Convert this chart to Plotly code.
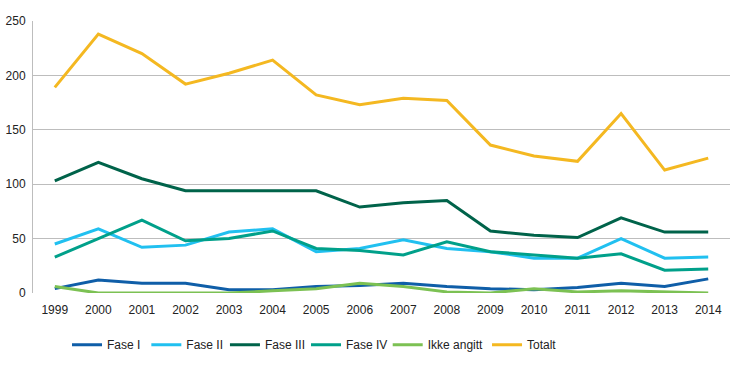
import plotly.graph_objects as go

years = [str(y) for y in range(1999, 2015)]
fase_1 = [4, 12, 9, 9, 3, 3, 6, 7, 9, 6, 4, 3, 5, 9, 6, 13]
fase_2 = [45, 59, 42, 44, 56, 59, 38, 41, 49, 41, 38, 32, 32, 50, 32, 33]
fase_3 = [103, 120, 105, 94, 94, 94, 94, 79, 83, 85, 57, 53, 51, 69, 56, 56]
fase_4 = [33, 50, 67, 48, 50, 57, 41, 39, 35, 47, 38, 35, 32, 36, 21, 22]
ikke_angitt = [6, 0, 0, 0, 0, 2, 4, 9, 6, 1, 0, 4, 1, 2, 1, 0]
totalt = [189, 238, 220, 192, 202, 214, 182, 173, 179, 177, 136, 126, 121, 165, 113, 124]

series = [
    ("Fase I", fase_1, "#0f5ea8"),
    ("Fase II", fase_2, "#21c0f0"),
    ("Fase III", fase_3, "#00634a"),
    ("Fase IV", fase_4, "#00a08a"),
    ("Ikke angitt", ikke_angitt, "#7cc153"),
    ("Totalt", totalt, "#f4b821"),
]
legend_x = [0.0488, 0.1626, 0.2754, 0.3917, 0.5089, 0.6514]

fig = go.Figure()
layout_legends = {}
for i, (name, vals, color) in enumerate(series):
    key = "legend" if i == 0 else f"legend{i+1}"
    fig.add_trace(go.Scatter(x=years, y=vals, name=name, mode="lines",
                             line=dict(color=color, width=3), legend=key))
    layout_legends[key] = dict(orientation="h", x=legend_x[i], xanchor="left",
                               y=-0.19, yanchor="middle", font=dict(size=12),
                               itemwidth=30, bgcolor="rgba(0,0,0,0)")

fig.update_layout(
    width=730, height=368,
    margin=dict(l=33, r=0, t=21, b=75),
    paper_bgcolor="white", plot_bgcolor="white",
    font=dict(family="Liberation Sans, Arial, sans-serif", size=12, color="#222"),
    showlegend=True,
    xaxis=dict(type="category", range=[-0.5, 15.5], showgrid=False, showline=False,
               ticks="", tickfont=dict(size=12), ticklabelstandoff=8, automargin=False),
    yaxis=dict(range=[0, 250], dtick=50, showgrid=True, gridcolor="#bdbdbd", gridwidth=1,
               showline=True, linecolor="#bdbdbd", linewidth=1, zeroline=False,
               ticks="", tickfont=dict(size=12), ticklabelstandoff=4, automargin=False),
    **layout_legends,
)

fig.write_html("out.html", config={"displayModeBar": False},
               post_script="document.body.style.margin='0';")
